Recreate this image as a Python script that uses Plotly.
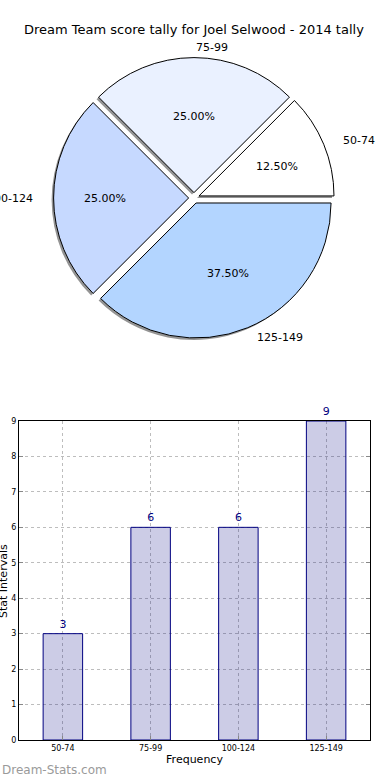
import math
import plotly.graph_objects as go

# ---- data ----
categories = ["50-74", "75-99", "100-124", "125-149"]
counts = [3, 6, 6, 9]
pie_colors = ["#FFFFFF", "#EAF1FF", "#C6D9FF", "#B3D5FF"]
y_ticks = list(range(0, 10))
title_text = "Dream Team score tally for Joel Selwood - 2014 tally"

W, H = 390, 780
FONT = "DejaVu Sans"

# pie geometry (pixels)
cx, cy = 194, 198          # centre, screen coords
R = 135
pull = 0.04
half = R * (1 + pull)
# text placement radii (reference pie is slightly wider than tall)
RX, RY = 140, 127
RY_OUT = 132

def dom_x(c):
    return [(c - half) / W, (c + half) / W]

def dom_y(c):
    return [1 - (c + half) / H, 1 - (c - half) / H]

fig = go.Figure()

pie_common = dict(labels=categories, values=counts, sort=False,
                  direction="counterclockwise", rotation=45, pull=[pull] * 4,
                  showlegend=False, textinfo="none")
# shadow
fig.add_trace(go.Pie(
    marker=dict(colors=["rgba(0,0,0,0.42)"] * 4, line=dict(width=0)),
    hoverinfo="skip", domain=dict(x=dom_x(cx - 2), y=dom_y(cy + 2)), **pie_common))
# main pie
fig.add_trace(go.Pie(
    marker=dict(colors=pie_colors, line=dict(color="black", width=1)),
    domain=dict(x=dom_x(cx), y=dom_y(cy)), **pie_common))

annotations = []
total = sum(counts)
cum = 0
off = pull * R
for lab, v in zip(categories, counts):
    frac = v / total
    mid = 2 * math.pi * (cum + frac / 2)
    cum += frac
    c, s = math.cos(mid), math.sin(mid)
    lx, ly = cx + (1.1 * RX + off) * c, cy - (1.1 * RY_OUT + off) * s
    annotations.append(dict(
        x=lx / W, y=1 - ly / H, xref="paper", yref="paper", text=lab,
        showarrow=False, xanchor="left" if c > -1e-9 else "right", yanchor="middle",
        font=dict(family=FONT, size=11, color="black")))
    px, py = cx + (0.6 * RX + off) * c, cy - (0.6 * RY + off) * s
    annotations.append(dict(
        x=px / W, y=1 - py / H, xref="paper", yref="paper",
        text=f"{frac*100:.2f}%", showarrow=False, xanchor="center", yanchor="middle",
        font=dict(family=FONT, size=11, color="black")))

annotations.append(dict(x=194 / W, y=1 - 30 / H, xref="paper", yref="paper",
                        text=title_text, showarrow=False, xanchor="center", yanchor="middle",
                        font=dict(family=FONT, size=13, color="black")))
annotations.append(dict(x=0, y=1 - 770 / H, xref="paper", yref="paper",
                        text="Dream-Stats.com", showarrow=False, xanchor="left",
                        yanchor="middle", font=dict(family=FONT, size=12, color="#9A9A9A")))
annotations.append(dict(x=3 / W, y=1 - 581 / H, xref="paper", yref="paper",
                        text="Stat Intervals", showarrow=False, textangle=-90,
                        xanchor="center", yanchor="middle",
                        font=dict(family=FONT, size=11, color="black")))

fig.add_trace(go.Bar(
    x=categories, y=counts, width=0.45,
    marker=dict(color="rgba(0,0,128,0.2)", line=dict(color="#000080", width=1)),
    text=[str(v) for v in counts], textposition="outside", cliponaxis=False,
    textfont=dict(family=FONT, size=11, color="#000080"),
    showlegend=False, xaxis="x", yaxis="y",
))

fig.update_layout(
    width=W, height=H, margin=dict(l=0, r=0, t=0, b=0, autoexpand=False),
    paper_bgcolor="white", plot_bgcolor="white",
    font=dict(family=FONT, color="black"),
    annotations=annotations,
    xaxis=dict(domain=[19 / W, 370 / W], range=[-0.5, 3.5], type="category",
               automargin=False,
               showline=True, linecolor="black", linewidth=1, mirror=True,
               showgrid=True, gridcolor="#BDBDBD", griddash="dot", gridwidth=1,
               ticks="inside", ticklen=4, tickcolor="#888",
               tickfont=dict(family=FONT, size=8, color="black"),
               title=dict(text="Frequency", font=dict(family=FONT, size=11), standoff=2),
               anchor="y", zeroline=False),
    yaxis=dict(domain=[1 - 740 / H, 1 - 421 / H], range=[0, 9], tickvals=y_ticks,
               automargin=False,
               showline=True, linecolor="black", linewidth=1, mirror="allticks",
               showgrid=True, gridcolor="#BDBDBD", griddash="dot", gridwidth=1,
               ticks="inside", ticklen=4, tickcolor="#888",
               tickfont=dict(family=FONT, size=8, color="black"),
               anchor="x", zeroline=False),
)

fig.write_html("out.html", config={"displayModeBar": False},
               post_script="document.body.style.margin='0';")
